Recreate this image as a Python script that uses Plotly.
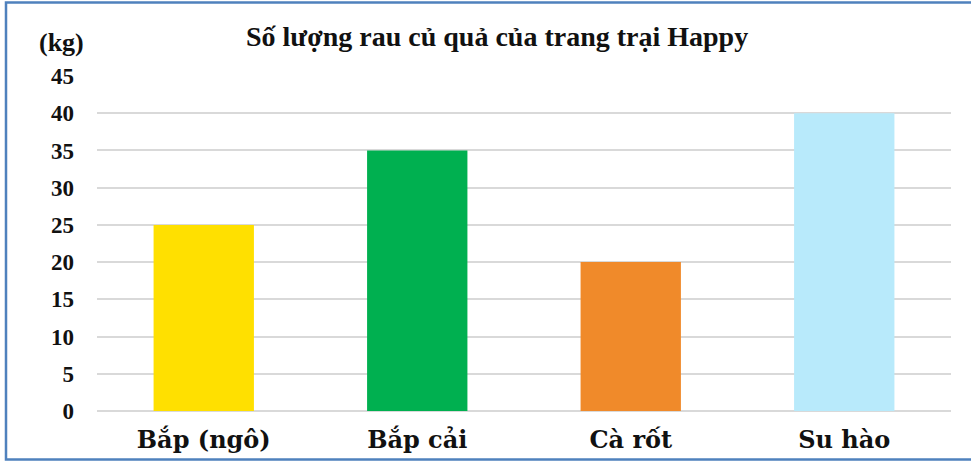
import plotly.graph_objects as go

categories = ["Bắp (ngô)", "Bắp cải", "Cà rốt", "Su hào"]
values = [25, 35, 20, 40]
colors = ["#FFE000", "#00B050", "#F08A2A", "#B8EAFB"]
y_ticks = [0, 5, 10, 15, 20, 25, 30, 35, 40, 45]

W, H = 971, 462
L, R, T, B = 97, 20, 76, 51
pw, ph = W - L - R, H - T - B

def px(x):
    return (x - L) / pw

def py(y):
    return (H - B - y) / ph

fig = go.Figure(go.Bar(
    x=categories, y=values, marker=dict(color=colors, line=dict(width=0)),
    width=0.47, hoverinfo="x+y"))

fig.update_layout(
    width=W, height=H, margin=dict(l=L, r=R, t=T, b=B, autoexpand=False),
    paper_bgcolor="white", plot_bgcolor="white", showlegend=False,
    xaxis=dict(showgrid=False, showline=False, ticks="", ticklabelstandoff=12,
               automargin=False,
               tickfont=dict(family="DejaVu Serif", size=24, color="#111111", weight="bold")),
    yaxis=dict(range=[0, 45], tickvals=y_ticks, showgrid=True, gridcolor="#D9D9D9",
               gridwidth=1.5, zeroline=True, zerolinecolor="#D9D9D9", zerolinewidth=1.5,
               showline=False, ticks="", ticklabelstandoff=22, automargin=False,
               tickfont=dict(family="Liberation Serif", size=23, color="#111111", weight="bold")),
    annotations=[
        dict(text="<b>Số lượng rau củ quả của trang trại Happy</b>", xref="paper", yref="paper",
             x=px(497), y=py(36), xanchor="center", yanchor="middle", showarrow=False,
             font=dict(family="Liberation Serif", size=28, color="#111111")),
        dict(text="<b>(kg)</b>", xref="paper", yref="paper",
             x=px(61), y=py(43), xanchor="center", yanchor="middle", showarrow=False,
             font=dict(family="Liberation Serif", size=26, color="#111111")),
    ],
    shapes=[
        dict(type="rect", xref="paper", yref="paper", x0=px(6), x1=px(990),
             y0=py(459.5), y1=py(2.5), line=dict(color="#4F81BD", width=2.5),
             fillcolor="rgba(0,0,0,0)", layer="below"),
    ],
)

fig.write_html("out.html", config={"displayModeBar": False},
               post_script="document.body.style.margin='0';document.body.style.overflow='hidden';")
